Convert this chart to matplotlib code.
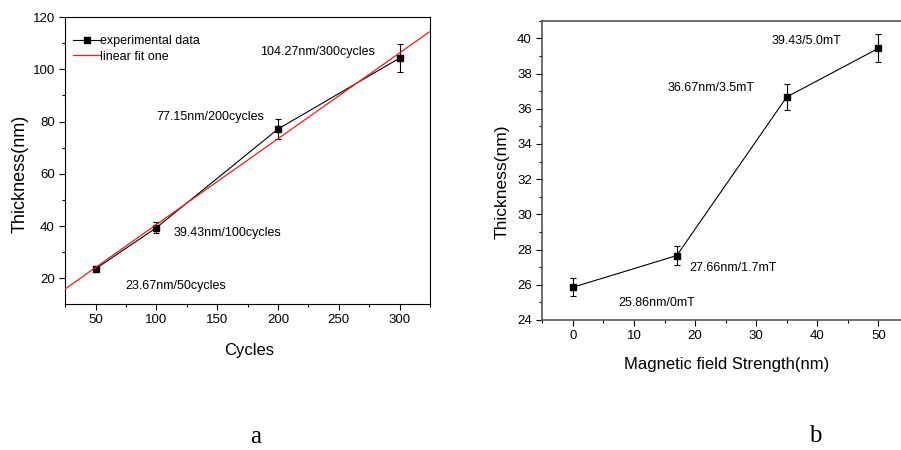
import numpy as np
import matplotlib
matplotlib.use("Agg")
import matplotlib.pyplot as plt
from matplotlib.ticker import MultipleLocator

plt.rcParams['font.family'] = ['Liberation Sans', 'DejaVu Sans']

# ---- data: panel a ----
cycles = [50, 100, 200, 300]
thick_a = [23.67, 39.43, 77.15, 104.27]
err_a = [1.0, 2.0, 4.0, 5.3]
labels_a = ["23.67nm/50cycles", "39.43nm/100cycles", "77.15nm/200cycles", "104.27nm/300cycles"]
label_pos_a = [(74, 17.0), (114, 37.2), (99.5, 81.8), (185.5, 106.7)]

# ---- data: panel b ----
field = [0, 17, 35, 50]
thick_b = [25.86, 27.66, 36.67, 39.43]
err_b = [0.5, 0.55, 0.75, 0.8]
labels_b = ["25.86nm/0mT", "27.66nm/1.7mT", "36.67nm/3.5mT", "39.43/5.0mT"]
label_pos_b = [(7.4, 24.95), (19.1, 26.97), (15.5, 37.17), (32.5, 39.83)]

W, H = 901, 450
fig = plt.figure(figsize=(W / 100, H / 100), dpi=100)

def fx(px):
    return px / W

def fy(py):
    return 1 - py / H

# ---------- panel a ----------
ax1 = fig.add_axes([fx(65.3), fy(304), fx(430) - fx(65.3), fy(17) - fy(304)])
xlim_a = (25, 325)
ax1.set_xlim(*xlim_a)
ax1.set_ylim(10.2, 120)
coef = np.polyfit(cycles, thick_a, 1)
xfit = np.array(xlim_a)
ax1.errorbar(cycles, thick_a, yerr=err_a, fmt='none', ecolor='black',
             elinewidth=0.8, capsize=2, capthick=0.8, zorder=3)
h_data, = ax1.plot(cycles, thick_a, color='black', marker='s', markersize=4.2, lw=0.8,
                   label='experimental data', zorder=3)
h_fit, = ax1.plot(xfit, np.polyval(coef, xfit), color='#e8201c', lw=0.9,
                  label='linear fit one', zorder=4)
for t, (x, y) in zip(labels_a, label_pos_a):
    ax1.text(x, y, t, fontsize=9, va='center', ha='left')
ax1.xaxis.set_major_locator(MultipleLocator(50))
ax1.xaxis.set_minor_locator(MultipleLocator(25))
ax1.yaxis.set_major_locator(MultipleLocator(20))
ax1.yaxis.set_minor_locator(MultipleLocator(10))
ax1.tick_params(which='both', direction='out', top=False, right=False, labelsize=9.5, width=0.8)
ax1.tick_params(which='major', length=4)
ax1.tick_params(which='minor', length=2.5)
ax1.set_xticks([50, 100, 150, 200, 250, 300])
for s in ax1.spines.values():
    s.set_linewidth(0.8)
    s.set_color('black')
ax1.legend(handles=[h_data, h_fit], loc='upper left', bbox_to_anchor=(0.021, 0.937),
           frameon=False, fontsize=9, borderpad=0, borderaxespad=0, handlelength=2.2,
           handletextpad=0.0, labelspacing=0.3)

# ---------- panel b ----------
ax2 = fig.add_axes([fx(542.3), fy(320), fx(909) - fx(542.3), fy(20.7) - fy(320)])
ax2.set_xlim(-5, 55)
ax2.set_ylim(24, 41)
ax2.errorbar(field, thick_b, yerr=err_b, color='black', marker='s', markersize=4.2,
             lw=0.8, elinewidth=0.8, capsize=2, capthick=0.8, zorder=3)
for t, (x, y) in zip(labels_b, label_pos_b):
    ax2.text(x, y, t, fontsize=9, va='center', ha='left')
ax2.xaxis.set_major_locator(MultipleLocator(10))
ax2.xaxis.set_minor_locator(MultipleLocator(5))
ax2.yaxis.set_major_locator(MultipleLocator(2))
ax2.yaxis.set_minor_locator(MultipleLocator(1))
ax2.set_xticks([0, 10, 20, 30, 40, 50])
ax2.set_yticks([24, 26, 28, 30, 32, 34, 36, 38, 40])
ax2.tick_params(which='both', direction='out', top=False, right=False, labelsize=9.5, width=0.8)
ax2.tick_params(which='major', length=4)
ax2.tick_params(which='minor', length=2.5)
for s in ax2.spines.values():
    s.set_linewidth(1.2)
    s.set_color('#555555')

# ---------- labels ----------
fig.text(fx(19.7), fy(173.5), 'Thickness(nm)', rotation=90, ha='center', va='center', fontsize=13)
fig.text(fx(249), fy(351), 'Cycles', ha='center', va='center', fontsize=12)
fig.text(fx(502.5), fy(181.5), 'Thickness(nm)', rotation=90, ha='center', va='center', fontsize=12.5)
fig.text(fx(726.7), fy(364.5), 'Magnetic field Strength(nm)', ha='center', va='center', fontsize=12)
fig.text(fx(256), fy(437), 'a', ha='center', va='center', fontsize=18, family='Liberation Serif')
fig.text(fx(815), fy(436), 'b', ha='center', va='center', fontsize=18, family='Liberation Serif')

fig.savefig('out.png', dpi=100)
